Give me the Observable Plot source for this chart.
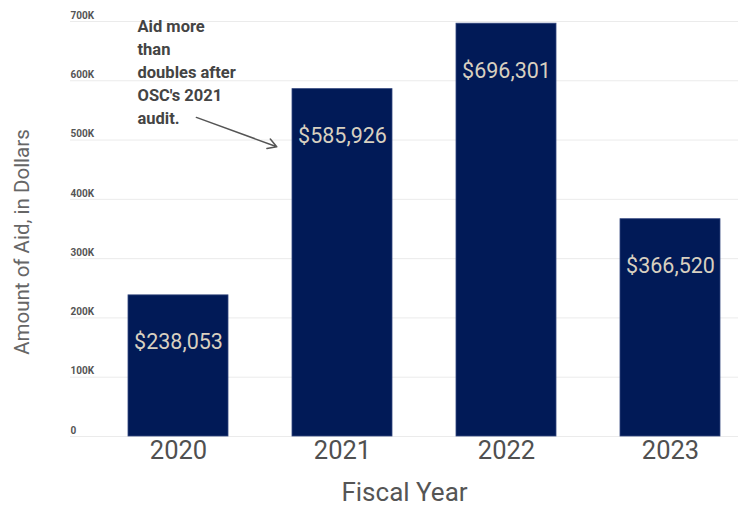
<!DOCTYPE html>
<html>
<head>
<meta charset="utf-8">
<script src="https://cdn.jsdelivr.net/npm/d3@7"></script>
<script src="https://cdn.jsdelivr.net/npm/@observablehq/plot@0.6"></script>
<style>
  html, body { margin: 0; padding: 0; background: #fff; }
  #chart svg { display: block; font-family: Roboto, "Noto Sans", sans-serif; }
</style>
</head>
<body>
<div id="chart"></div>
<script>
const years = ["2020", "2021", "2022", "2023"];
const aid = [238053, 585926, 696301, 366520];
const yTicks = [0, 100000, 200000, 300000, 400000, 500000, 600000, 700000];
const yTickLabels = ["0", "100K", "200K", "300K", "400K", "500K", "600K", "700K"];
const noteLines = ["Aid more", "than", "doubles after", "OSC's 2021", "audit."];
const noteText = noteLines.join("\n");
const yLabel = "Amount of Aid, in Dollars";
const xLabel = "Fiscal Year";

const data = years.map((y, i) => ({year: y, value: aid[i]}));
const ticks = yTicks.map((v, i) => ({v, label: yTickLabels[i]}));

const fmt = d3.format("$,");

const chart = Plot.plot({
  width: 738,
  height: 508,
  marginTop: 21,
  marginBottom: 72,
  marginLeft: 70,
  marginRight: 0,
  style: {fontFamily: "Roboto, 'Noto Sans', sans-serif", background: "#fff"},
  x: {type: "band", domain: years, range: [96, 752], paddingInner: 0.39, paddingOuter: 0.195, axis: null},
  y: {domain: [0, 700000], axis: null},
  marks: [
    Plot.ruleY(ticks, {y: "v", stroke: "#ebebeb", strokeWidth: 1}),
    Plot.text(ticks, {y: "v", text: "label", frameAnchor: "left", textAnchor: "start", dy: -6,
      fontSize: 10, fontWeight: "bold", fill: "#555"}),
    Plot.barY(data, {x: "year", y: "value", fill: "#011a57", stroke: "#33467e", strokeWidth: 0.8}),
    Plot.text(data, {x: "year", y: "value", text: d => fmt(d.value), dy: 47,
      fontSize: 21.5, fill: "#d8d0c0"}),
    Plot.axisX({tickSize: 0, tickPadding: 4, fontSize: 25.5, fill: "#505050", label: null}),
    Plot.text([xLabel], {frameAnchor: "bottom", textAnchor: "middle", dy: 64, fontSize: 26, fill: "#555"}),
    Plot.text([yLabel], {frameAnchor: "left", textAnchor: "middle", dx: -48, dy: 13, rotate: -90,
      fontSize: 20.5, fill: "#666"}),
    Plot.text([{year: "2020", value: 700000}], {x: "year", y: "value", text: () => noteText,
      textAnchor: "start", lineAnchor: "top", dx: -41, dy: -6, lineHeight: 1.4,
      fontSize: 16.5, fontWeight: "bold", fill: "#444"}),
    Plot.arrow([{x1: "2020", y1: 549200, x2: "2021", y2: 448300}], {
      x1: "x1", y1: "y1", x2: "x2", y2: "y2", bend: 0,
      stroke: "#555", strokeWidth: 1.5, headLength: 10, insetStart: 19, insetEnd: 70})
  ]
});
document.getElementById("chart").appendChild(chart);
</script>
</body>
</html>
